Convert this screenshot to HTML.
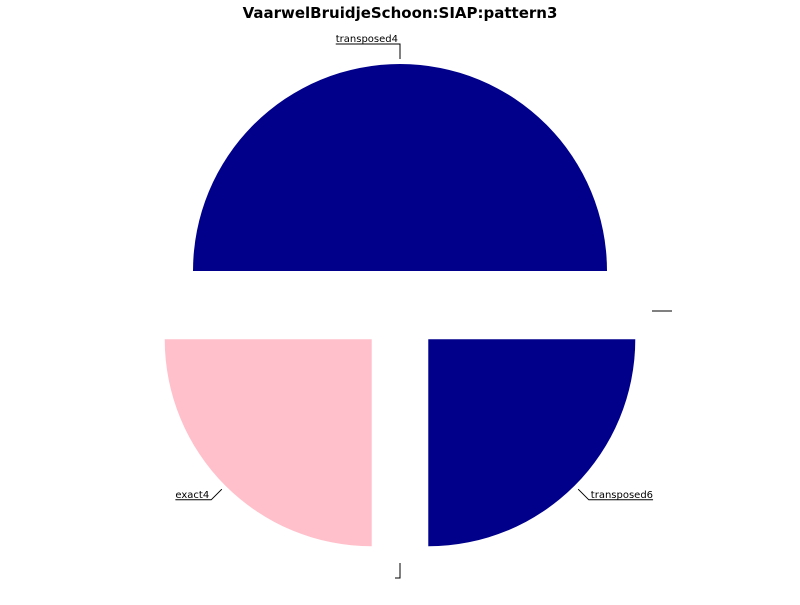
<!DOCTYPE html>
<html><head><meta charset="utf-8"><style>
body{margin:0;background:#fff;}
svg text{font-family:"DejaVu Sans","Liberation Sans",sans-serif;}
</style></head><body>
<svg id="chart" width="800" height="600" xmlns="http://www.w3.org/2000/svg">
<text x="400" y="18" text-anchor="middle" font-size="15" font-weight="bold">VaarwelBruidjeSchoon:SIAP:pattern3</text>
<g id="slices"></g>
<g id="labels"></g>
</svg>
<script>
const labels = ["transposed4", "exact4", "", "transposed6", ""];
const values = [2, 1, 0, 1, 0];
const colors = ["#00008b", "#ffc0cb", "#ffffff", "#00008b", "#ffffff"];
const cx = 400, cy = 311, R = 207, explode = 40;
const NS = "http://www.w3.org/2000/svg";
const total = values.reduce((a, b) => a + b, 0);
const gS = document.getElementById('slices'), gL = document.getElementById('labels');
function pt(x, y, a, r) { return [x + r * Math.cos(a), y - r * Math.sin(a)]; }
let start = 0;
values.forEach((v, i) => {
  const sweep = v / total * 2 * Math.PI;
  const mid = start + sweep / 2;
  const ox = cx + explode * Math.cos(mid), oy = cy - explode * Math.sin(mid);
  if (v > 0) {
    const p1 = pt(ox, oy, start, R), p2 = pt(ox, oy, start + sweep, R);
    const large = sweep > Math.PI ? 1 : 0;
    const path = document.createElementNS(NS, 'path');
    path.setAttribute('d', `M${ox},${oy} L${p1[0]},${p1[1]} A${R},${R} 0 ${large} 0 ${p2[0]},${p2[1]} Z`);
    path.setAttribute('fill', colors[i]);
    
    
    gS.appendChild(path);
  }
  const e = pt(ox, oy, mid, R + 5), e2 = pt(ox, oy, mid, R + 20);
  const right = Math.cos(mid) > 0.01;
  let tw = 5;
  let t = null;
  if (labels[i]) {
    t = document.createElementNS(NS, 'text');
    t.setAttribute('font-size', '10');
    t.textContent = labels[i];
    
    
    gL.appendChild(t);
    tw = t.getComputedTextLength() + 2;
  }
  const hx = right ? e2[0] + tw : e2[0] - tw;
  const line = document.createElementNS(NS, 'path');
  line.setAttribute('d', `M${e[0]},${e[1]} L${e2[0]},${e2[1]} L${hx},${e2[1]}`);
  line.setAttribute('stroke', '#000');
  line.setAttribute('fill', 'none');
  line.setAttribute('stroke-width', '1');
  
  
  gL.appendChild(line);
  if (t) {
    t.setAttribute('x', right ? e2[0] + 2 : hx);
    t.setAttribute('y', e2[1] - 2);
  }
  start += sweep;
});
</script>
</body></html>
